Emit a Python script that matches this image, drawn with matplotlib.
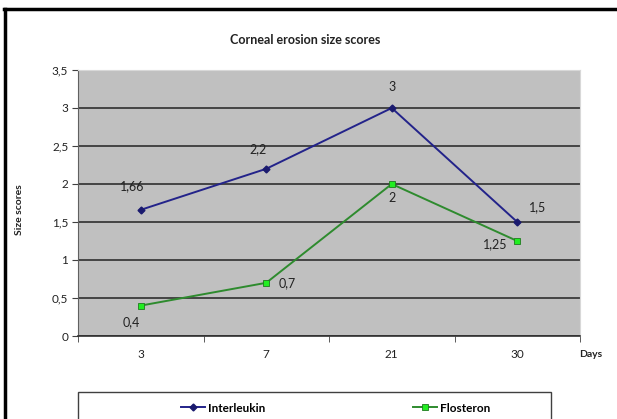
import numpy as np
import matplotlib.pyplot as plt
from matplotlib.lines import Line2D
from matplotlib.patches import Rectangle

plt.rcParams['font.family'] = ['Lato', 'DejaVu Sans']

# ---------- data ----------
days = ["3", "7", "21", "30"]
interleukin = [1.66, 2.2, 3.0, 1.5]
flosteron = [0.4, 0.7, 2.0, 1.25]
interleukin_labels = ["1,66", "2,2", "3", "1,5"]
flosteron_labels = ["0,4", "0,7", "2", "1,25"]
y_ticks = [0, 0.5, 1, 1.5, 2, 2.5, 3, 3.5]
y_ticklabels = ["0", "0,5", "1", "1,5", "2", "2,5", "3", "3,5"]

W, H = 617, 419
fig = plt.figure(figsize=(W / 100, H / 100), dpi=100)
ax = fig.add_axes([78 / W, 1 - 336 / H, (580 - 78) / W, (336 - 70) / H])

x = np.arange(len(days))
ax.set_facecolor("#c0c0c0")
ax.plot(x, interleukin, color="#23238a", lw=1.4, marker="D", ms=3.5,
        mfc="#1a1a6e", mec="#1a1a6e", label="Interleukin", zorder=3)
ax.plot(x, flosteron, color="#2e8b2e", lw=1.4, marker="s", ms=5,
        mfc="#22ee22", mec="#1f7a1f", mew=0.6, label="Flosteron", zorder=3)

ax.set_xlim(-0.5, 3.5)
ax.set_ylim(0, 3.5)
ax.set_yticks(y_ticks)
ax.set_yticklabels(y_ticklabels, fontsize=8.5, color="#222222")
ax.set_xticks(x)
ax.set_xticklabels(days, fontsize=8.5, color="#222222")
ax.set_xticks([-0.5, 0.5, 1.5, 2.5, 3.5], minor=True)
ax.tick_params(axis="x", which="major", length=0, pad=9)
ax.tick_params(axis="x", which="minor", length=4, direction="out", color="#404040")
ax.tick_params(axis="y", length=4, direction="out", color="#404040", pad=3)
ax.grid(axis="y", color="#3a3a3a", lw=1.3)
ax.set_axisbelow(True)
for s in ["top", "right"]:
    ax.spines[s].set_color("#d8d8d8")
ax.spines["left"].set_color("#606060")
ax.spines["bottom"].set_color("#303030")
ax.spines["bottom"].set_linewidth(1.2)

# value labels (offsets in points)
il_off = [(-6, 17), (-6, 14), (0, 15), (15, 11)]
fl_off = [(-7, -12), (15, 0), (0, -10), (-16, -2)]
for xi, yi, t, o in zip(x, interleukin, interleukin_labels, il_off):
    ax.annotate(t, (xi, yi), xytext=o, textcoords="offset points",
                ha="center", va="center", fontsize=9, color="#222222")
for xi, yi, t, o in zip(x, flosteron, flosteron_labels, fl_off):
    ax.annotate(t, (xi, yi), xytext=o, textcoords="offset points",
                ha="center", va="center", fontsize=9, color="#222222")

fig.text(305 / W, 1 - 40 / H, "Corneal erosion size scores", ha="center",
         va="center", fontsize=9, fontweight="bold", color="#222222")
fig.text(20 / W, 1 - 210 / H, "Size scores", rotation=90, ha="center",
         va="center", fontsize=7.5, fontweight="bold", color="#222222")
fig.text(591 / W, 1 - 354 / H, "Days", ha="center", va="center",
         fontsize=7.5, fontweight="bold", color="#222222")

# legend box
fig.patches.append(Rectangle((78 / W, -0.1), (551 - 78) / W, 0.1 + 1 - 392 / H,
                             transform=fig.transFigure, fill=False,
                             ec="#404040", lw=1.0))
fig.legend(loc="center", bbox_to_anchor=(336 / W, 1 - 408 / H), ncol=2,
           frameon=False, columnspacing=12.5, handlelength=2.0,
           handletextpad=0.3, prop={"weight": "bold", "size": 8.5})

# outer border (left and top only visible)
fig.lines.append(Line2D([5 / W, 5 / W], [0, 1 - 9 / H], transform=fig.transFigure,
                        color="black", lw=2.5))
fig.lines.append(Line2D([4 / W, 1], [1 - 9 / H, 1 - 9 / H], transform=fig.transFigure,
                        color="black", lw=2.5))

fig.savefig("out.png", dpi=100)
